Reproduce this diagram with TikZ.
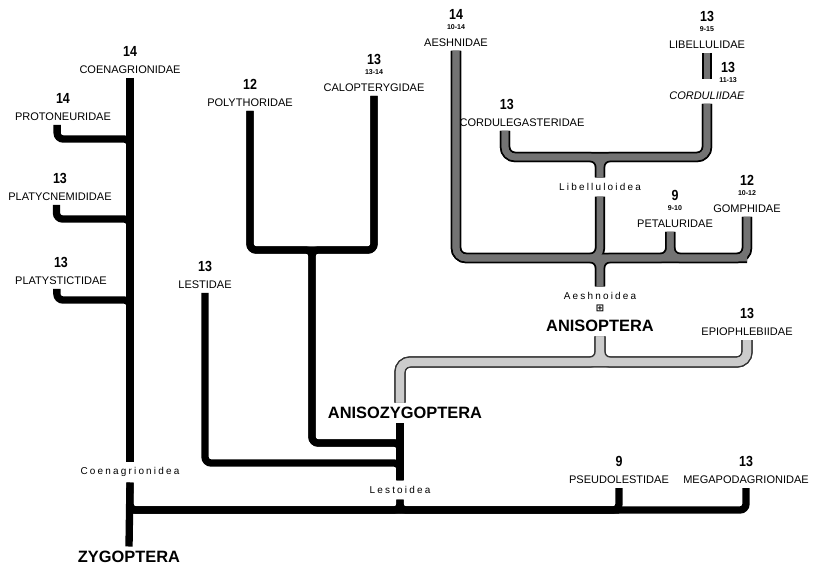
\documentclass[tikz,border=0pt]{standalone}
\usepackage{fontspec}
\setmainfont{Liberation Sans}
\newfontfamily\numfont{Liberation Sans}[FakeStretch=0.85]
\newfontfamily\supfont{Liberation Sans}[LetterSpace=22]
\newfontfamily\symfont{DejaVu Sans}
\usepackage{tikz}
\usetikzlibrary{positioning}
\tikzset{
  fam/.style={font=\fontsize{9.4}{10}\selectfont, inner sep=1pt, outer sep=2.5pt},
  num/.style={font=\numfont\bfseries\fontsize{12.5}{12.5}\selectfont, inner sep=0.5pt},
  rng/.style={font=\bfseries\fontsize{6}{6}\selectfont, inner sep=0.5pt},
  grp/.style={font=\bfseries\fontsize{14}{14}\selectfont, inner sep=1pt, outer sep=3pt},
  sup/.style={font=\supfont\fontsize{8.5}{9}\selectfont, inner sep=1pt, outer sep=4pt},
  zyg/.style={line width=0.22cm, rounded corners=0.18cm},
  dkout/.style={line width=0.31cm, draw=black, rounded corners=0.3cm},
  dkin/.style={line width=0.2cm, draw=black!55, rounded corners=0.3cm},
  lgtout/.style={line width=0.34cm, draw=black!80, rounded corners=0.3cm},
  lgtin/.style={line width=0.25cm, draw=black!20, rounded corners=0.3cm},
}

\begin{document}
\begin{tikzpicture}[x=0.03cm, y=-0.03cm, node distance=4pt]
  \useasboundingbox (0,0) rectangle (813,569);

  % Zygoptera families
  \node[fam] (coen) at (130,70) {COENAGRIONIDAE};
  \node[num, above=of coen] (coen-n) {14};
  \node[fam] (proto) at (63,117) {PROTONEURIDAE};
  \node[num, above=of proto] (proto-n) {14};
  \node[fam] (platyc) at (60,197) {PLATYCNEMIDIDAE};
  \node[num, above=of platyc] (platyc-n) {13};
  \node[fam] (platys) at (61,281) {PLATYSTICTIDAE};
  \node[num, above=of platys] (platys-n) {13};
  \node[fam] (poly) at (250,103) {POLYTHORIDAE};
  \node[num, above=of poly] (poly-n) {12};
  \node[fam] (calo) at (374,88) {CALOPTERYGIDAE};
  \node[rng, above=of calo] (calo-r) {13-14};
  \node[num, above=3pt of calo-r] (calo-n) {13};
  \node[fam] (lest) at (205,285) {LESTIDAE};
  \node[num, above=of lest] (lest-n) {13};
  \node[fam] (pseudo) at (619,480) {PSEUDOLESTIDAE};
  \node[num, above=of pseudo] (pseudo-n) {9};
  \node[fam] (mega) at (746,480) {MEGAPODAGRIONIDAE};
  \node[num, above=of mega] (mega-n) {13};

  % Anisoptera families
  \node[fam] (aesh) at (456,43) {AESHNIDAE};
  \node[rng, above=of aesh] (aesh-r) {10-14};
  \node[num, above=3pt of aesh-r] (aesh-n) {14};
  \node[fam] (libel) at (707,45) {LIBELLULIDAE};
  \node[rng, above=of libel] (libel-r) {9-15};
  \node[num, above=3pt of libel-r] (libel-n) {13};
  \node[fam] (cordul) at (707,96) {\textit{CORDULIIDAE}};
  \node[rng, above=of cordul, xshift=18pt] (cordul-r) {11-13};
  \node[num, above=3pt of cordul-r] (cordul-n) {13};
  \node[fam] (cordg) at (522,123) {CORDULEGASTERIDAE};
  \node[num, above=of cordg, xshift=-13pt] (cordg-n) {13};
  \node[fam] (petal) at (675,224) {PETALURIDAE};
  \node[rng, above=of petal] (petal-r) {9-10};
  \node[num, above=3pt of petal-r] (petal-n) {9};
  \node[fam] (gomph) at (747,209) {GOMPHIDAE};
  \node[rng, above=of gomph] (gomph-r) {10-12};
  \node[num, above=3pt of gomph-r] (gomph-n) {12};
  \node[fam] (epio) at (747,332) {EPIOPHLEBIIDAE};
  \node[num, above=of epio] (epio-n) {13};

  % suborders and superfamilies
  \node[grp] (zygo) at (129,557) {ZYGOPTERA};
  \node[grp] (anisoz) at (405,413) {ANISOZYGOPTERA};
  \node[grp] (anisop) at (600,326) {ANISOPTERA};
  \node[font=\symfont\bfseries\fontsize{8.5}{8.5}\selectfont, inner sep=0pt] (aeicon) at (600,308) {⊞};
  \node[sup] (coenoid) at (130,472) {Coenagrionidea};
  \node[sup] (lestoid) at (400,490) {Lestoidea};
  \node[sup] (aeshoid) at (600,296) {Aeshnoidea};
  \node[sup] (libeloid) at (600,187) {Libelluloidea};

  \coordinate (b1) at (130,139);
  \coordinate (b2) at (130,219);
  \coordinate (b3) at (130,300);
  \coordinate (pj) at (312,250);
  \coordinate (azj) at (400,443);
  \coordinate (lj0) at (400,463);
  \coordinate (sj) at (400,510);
  \coordinate (zh) at (130,510);
  \coordinate (aj) at (600,362);
  \coordinate (ej) at (600,258);
  \coordinate (lj) at (600,157);

  % Zygoptera and Anisozygoptera
  \draw[zyg] (coen.south) -- (coenoid.north);
  \draw[zyg] (coenoid.south) -- (zygo.north);
  \draw[zyg] ([xshift=-5pt]proto.south) |- (b1) -- (coenoid.north);
  \draw[zyg] ([xshift=-3pt]platyc.south) |- (b2) -- (coenoid.north);
  \draw[zyg] ([xshift=-3.5pt]platys.south) |- (b3) -- (coenoid.north);
  \draw[zyg] (coenoid.south) |- (sj);
  \draw[zyg] (mega.south) |- (zh);
  \draw[zyg] (pseudo.south) |- (sj);
  \draw[zyg] (lestoid.south) |- (zh);
  \draw[zyg] (lestoid.south) |- (pseudo.south |- zh);
  \draw[zyg] (poly.south) |- (pj) -| (calo.south);
  \draw[zyg] (poly.south) |- (pj) |- (azj) -- (lestoid.north);
  \draw[zyg] (calo.south) |- (pj) |- (azj);
  \draw[zyg] (anisoz.south -| azj) -- (lestoid.north);
  \draw[zyg] (lest.south) |- (lj0) -- (lestoid.north);

  % stem of Anisoptera
  \foreach \s in {lgtout,lgtin} {
    \draw[\s] (anisoz.north -| azj) |- (aj) -| (epio.south);
    \draw[\s] (anisop.south) -- (aj) -| (epio.south);
    \draw[\s] (anisop.south) -- (aj) -| (anisoz.north -| azj);
  }

  % Anisoptera
  \foreach \s in {dkout,dkin} {
    \draw[\s] (aesh.south) |- (ej) -| (gomph.south);
    \draw[\s] (aeshoid.north) -- (ej) -| (aesh.south);
    \draw[\s] (aeshoid.north) -- (ej) -| (gomph.south);
    \draw[\s] (libeloid.south) -- (ej) -| (aesh.south);
    \draw[\s] ([xshift=-4pt]petal.south) |- (ej);
    \draw[\s] ([xshift=-4pt]petal.south) |- (gomph.south |- ej);
    \draw[\s] ([xshift=-14.5pt]cordg.south) |- (lj) -| (cordul.south);
    \draw[\s] (libeloid.north) -- (lj) -| ([xshift=-14.5pt]cordg.south);
    \draw[\s] (libeloid.north) -- (lj) -| (cordul.south);
    \draw[\s] (libel.south) -- ([yshift=8pt]cordul.north);
  }
\end{tikzpicture}
\end{document}
